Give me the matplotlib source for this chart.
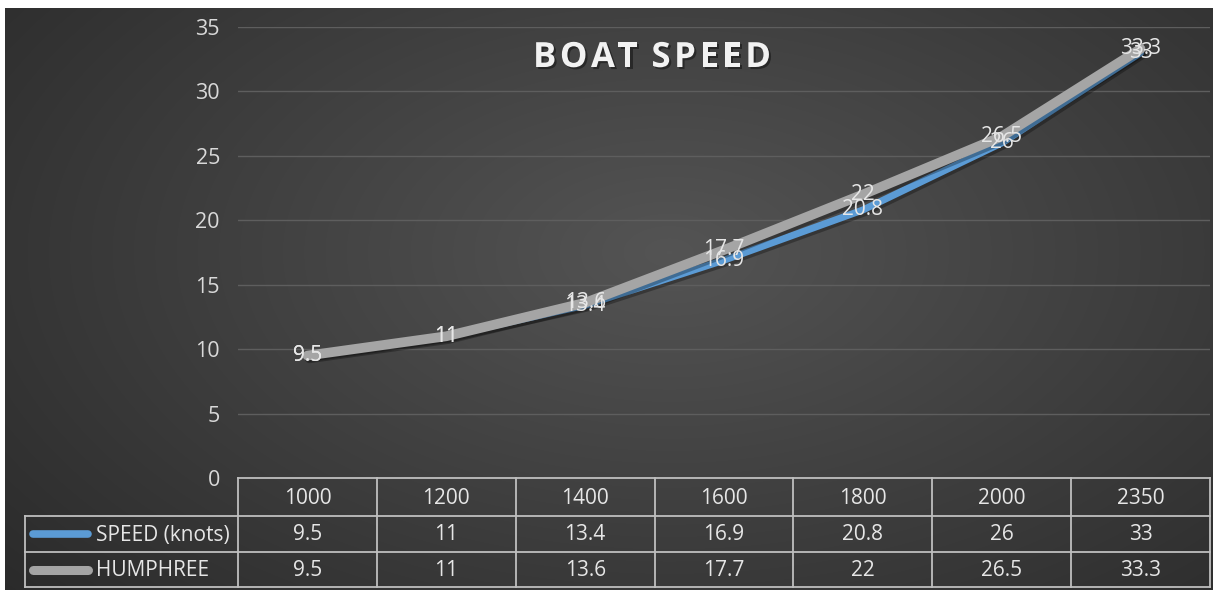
import numpy as np
import matplotlib
matplotlib.use("Agg")
import matplotlib.pyplot as plt
import matplotlib.patheffects as pe
from matplotlib.textpath import TextToPath
from matplotlib.font_manager import FontProperties

# ---- data ----
categories = ["1000", "1200", "1400", "1600", "1800", "2000", "2350"]
speed_knots = [9.5, 11, 13.4, 16.9, 20.8, 26, 33]
humphree = [9.5, 11, 13.6, 17.7, 22, 26.5, 33.3]
series_names = ["SPEED (knots)", "HUMPHREE"]
y_ticks = [0, 5, 10, 15, 20, 25, 30, 35]
title = "BOAT SPEED"

W, H = 1213, 590
FONT = "Open Sans"
plt.rcParams['font.family'] = [FONT, 'DejaVu Sans']

fig = plt.figure(figsize=(W / 100, H / 100), dpi=100)
fig.patch.set_facecolor("white")

# ---- background gradient ----
bg = fig.add_axes([5 / W, 0, 1 - 5 / W, 1 - 8 / H])
bg.set_axis_off()
yy, xx = np.mgrid[0:1:300j, 0:1:600j]
r = np.sqrt(((xx - 0.55) / 0.75) ** 2 + ((yy - 0.42) / 0.9) ** 2)
val = 0.33 - 0.20 * np.clip(r, 0, 1.2) / 1.2
img = np.dstack([val, val, val])
bg.imshow(img, aspect="auto", extent=[0, 1, 1, 0], interpolation="bilinear")
bg.set_xlim(0, 1); bg.set_ylim(1, 0)

# ---- main plot ----
px_l, px_r, px_top, px_bot = 238, 1210, 27, 478
ax = fig.add_axes([px_l / W, 1 - px_bot / H, (px_r - px_l) / W, (px_bot - px_top) / H])
ax.set_facecolor("none")
x = np.arange(len(categories))
ax.set_xlim(-0.5, len(categories) - 0.5)
ax.set_ylim(0, 35)
ax.set_yticks(y_ticks)
ax.set_xticks([])
for s in ax.spines.values():
    s.set_visible(False)
ax.grid(axis="y", color="#5e5e5e", linewidth=1.0)
ax.tick_params(axis="y", length=0, pad=13, labelsize=15.5, labelcolor="#d9d9d9")
ax.set_axisbelow(True)

blue = "#5b9bd5"
gray = "#a5a5a5"
shadow = [pe.SimpleLineShadow(offset=(1.5, -2), shadow_color="black", alpha=0.3), pe.Normal()]
ax.plot(x, speed_knots, color=blue, linewidth=5, solid_capstyle="round",
        solid_joinstyle="round", path_effects=shadow, zorder=3)
ax.plot(x, humphree, color=gray, linewidth=7, solid_capstyle="round",
        solid_joinstyle="round", path_effects=shadow, zorder=4)

for xi, v in zip(x, speed_knots):
    ax.text(xi, v, f"{v:g}", ha="center", va="center", fontsize=15,
            color="#e6e6e6", zorder=6)
for xi, v in zip(x, humphree):
    ax.text(xi, v, f"{v:g}", ha="center", va="center", fontsize=15,
            color="#e6e6e6", zorder=6)

# ---- title with letter spacing ----
tfs = 25
tprops = FontProperties(family=FONT, weight="bold", size=tfs)
t2p = TextToPath()
def pxw(s):
    if not s:
        return 0.0
    w, h, d = t2p.get_text_width_height_descent(s.replace(" ", "\u00a0"), tprops, ismath=False)
    return w * 100 / 72
track = 3.5
starts = []
for i in range(len(title)):
    starts.append(pxw(title[:i]) + track * i)
total = pxw(title) + track * (len(title) - 1)
cx0 = 652 - total / 2
tax = fig.add_axes([0, 0, 1, 1])
tax.set_axis_off()
tax.patch.set_alpha(0)
tax.set_xlim(0, W); tax.set_ylim(H, 0)
for ch, s0 in zip(title, starts):
    if ch != " ":
        tax.text(cx0 + s0, 58, ch, ha="left", va="center", fontsize=tfs,
                 fontweight="bold", color="#f2f2f2",
                 path_effects=[pe.withSimplePatchShadow(offset=(1.5, -1.5),
                                                        shadow_rgbFace="black", alpha=0.4)])

# ---- data table ----
tab = fig.add_axes([0, 0, 1, 1])
tab.set_axis_off()
tab.set_xlim(0, W)
tab.set_ylim(H, 0)
tab.patch.set_alpha(0)

lc = "#bfbfbf"
lw = 1.3
row_y = [478, 516, 552, 587]
col_x = [px_l + i * (px_r - px_l) / len(categories) for i in range(len(categories) + 1)]
leg_l = 25
tab.plot([px_l, px_r], [row_y[0]] * 2, color=lc, lw=lw)
for ry in row_y[1:]:
    tab.plot([leg_l, px_r], [ry] * 2, color=lc, lw=lw)
for cx in col_x:
    tab.plot([cx, cx], [row_y[0], row_y[3]], color=lc, lw=lw)
tab.plot([leg_l, leg_l], [row_y[1], row_y[3]], color=lc, lw=lw)

cell_fs = 15
tc = "#e6e6e6"
for i, c in enumerate(categories):
    cx = (col_x[i] + col_x[i + 1]) / 2
    tab.text(cx, (row_y[0] + row_y[1]) / 2 + 1, c, ha="center", va="center",
             fontsize=cell_fs, color=tc)
    tab.text(cx, (row_y[1] + row_y[2]) / 2 + 1, f"{speed_knots[i]:g}", ha="center",
             va="center", fontsize=cell_fs, color=tc)
    tab.text(cx, (row_y[2] + row_y[3]) / 2 + 1, f"{humphree[i]:g}", ha="center",
             va="center", fontsize=cell_fs, color=tc)

for k, (name, col, klw) in enumerate(zip(series_names, [blue, gray], [5.5, 6.5])):
    ym = (row_y[1 + k] + row_y[2 + k]) / 2
    tab.plot([33, 88], [ym, ym], color=col, lw=klw, solid_capstyle="round")
    tab.text(96, ym + 1, name, ha="left", va="center", fontsize=cell_fs, color=tc)

fig.savefig("out.png", dpi=100, facecolor=fig.get_facecolor())
